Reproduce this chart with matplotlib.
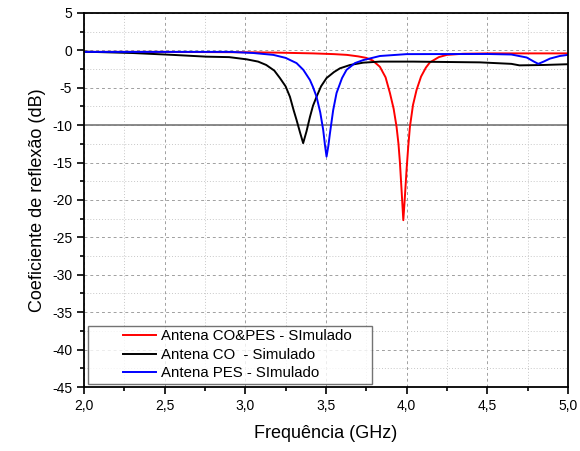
import matplotlib
matplotlib.use("Agg")
import numpy as np
import matplotlib.pyplot as plt
from matplotlib.ticker import MultipleLocator, FuncFormatter
from matplotlib.legend_handler import HandlerLine2D

plt.rcParams['font.family'] = ['Liberation Sans', 'DejaVu Sans']

# Antena CO&PES - simulado
freq_copes = [2.0, 2.5, 3.0, 3.2, 3.42, 3.55, 3.63, 3.70, 3.75, 3.79, 3.835, 3.87,
              3.897, 3.92, 3.938, 3.95, 3.959, 3.97, 3.98, 3.99, 4.0, 4.01, 4.021,
              4.04, 4.062, 4.09, 4.12, 4.145, 4.2, 4.25, 4.35, 4.5, 4.75, 5.0]
s11_copes = [-0.2, -0.2, -0.25, -0.3, -0.4, -0.5, -0.6, -0.8, -1.0, -1.35, -2.2, -3.6,
             -5.7, -7.8, -10.2, -12.5, -15.0, -19.0, -22.7, -19.5, -16.0, -13.0, -10.2,
             -7.3, -5.3, -3.5, -2.3, -1.6, -0.9, -0.6, -0.45, -0.4, -0.4, -0.4]

# Antena CO - simulado
freq_co = [2.0, 2.3, 2.55, 2.76, 2.9, 3.01, 3.08, 3.13, 3.18, 3.215, 3.25, 3.277,
           3.30, 3.318, 3.34, 3.359, 3.38, 3.401, 3.42, 3.442, 3.47, 3.504, 3.55,
           3.587, 3.65, 3.731, 3.835, 4.04, 4.455, 4.65, 4.70, 4.85, 5.0]
s11_co = [-0.17, -0.35, -0.6, -0.84, -0.9, -1.2, -1.5, -1.95, -2.7, -3.7, -4.8, -6.2,
          -8.0, -9.3, -11.0, -12.4, -10.8, -8.9, -7.4, -6.2, -4.8, -3.7, -2.9,
          -2.4, -1.95, -1.64, -1.5, -1.5, -1.6, -1.8, -2.0, -1.95, -1.85]

# Antena PES - simulado
freq_pes = [2.0, 2.5, 2.905, 3.05, 3.174, 3.25, 3.318, 3.36, 3.401, 3.42, 3.442, 3.465,
            3.483, 3.495, 3.504, 3.515, 3.525, 3.545, 3.566, 3.6, 3.628, 3.68, 3.731,
            3.835, 4.0, 4.5, 4.65, 4.745, 4.79, 4.817, 4.85, 4.889, 4.95, 5.0]
s11_pes = [-0.2, -0.2, -0.2, -0.35, -0.6, -1.0, -1.7, -2.6, -3.96, -4.9, -6.2, -8.3,
           -10.6, -12.8, -14.2, -12.8, -11.1, -8.0, -5.7, -3.7, -2.6, -1.7, -1.3,
           -0.75, -0.5, -0.48, -0.55, -0.95, -1.5, -1.8, -1.5, -1.1, -0.75, -0.6]

labels = ['Antena CO&PES - SImulado', 'Antena CO  - Simulado', 'Antena PES - SImulado']


class RightHandle(HandlerLine2D):
    # legend line only on the right part of the handle box, like Origin does
    def get_xdata(self, legend, xdescent, ydescent, width, height, fontsize):
        x = np.array([-xdescent + width * 0.48, -xdescent + width])
        return x, x


fig = plt.figure(figsize=(5.8, 4.51), dpi=100)
ax = fig.add_axes([0.1448, 0.1419, 0.979 - 0.1448, 0.9712 - 0.1419])

# trailing spaces give the wider legend box of the original
ax.plot(freq_copes, s11_copes, color='red', lw=1.4, label=labels[0] + '    ')
ax.plot(freq_co, s11_co, color='black', lw=1.4, label=labels[1])
ax.plot(freq_pes, s11_pes, color='blue', lw=1.4, label=labels[2])
ax.axhline(-10, color='grey', lw=1.3, zorder=1)

ax.set_xlim(2.0, 5.0)
ax.set_ylim(-45, 5)
ax.xaxis.set_major_locator(MultipleLocator(0.5))
ax.xaxis.set_minor_locator(MultipleLocator(0.25))
ax.yaxis.set_major_locator(MultipleLocator(5))
ax.yaxis.set_minor_locator(MultipleLocator(2.5))
ax.xaxis.set_major_formatter(FuncFormatter(lambda v, p: ('%.1f' % v).replace('.', ',')))
ax.yaxis.set_major_formatter(FuncFormatter(lambda v, p: '%d' % v))

ax.grid(True, which='major', color='#a0a0a0', ls=(0, (3, 3)), lw=0.7)
ax.grid(True, which='minor', color='#c8c8c8', ls=(0, (1, 2)), lw=0.7)
ax.set_axisbelow(True)

ax.tick_params(which='both', direction='out', top=False, right=False, labelsize=10)
ax.tick_params(which='major', length=5, width=1.2)
ax.tick_params(which='minor', length=3, width=1.2)
for s in ax.spines.values():
    s.set_linewidth(1.3)

ax.set_xlabel('Frequência (GHz)', fontsize=13, labelpad=9)
ax.set_ylabel('Coeficiente de reflexão (dB)', fontsize=13, labelpad=4)

leg = ax.legend(loc='lower left', bbox_to_anchor=(0.008, 0.008), fontsize=10.8,
                frameon=True, fancybox=False, edgecolor='#505050',
                borderpad=0.25, labelspacing=0.3, handlelength=4.3, handletextpad=0.3,
                borderaxespad=0, handler_map={plt.Line2D: RightHandle()})
leg.get_frame().set_linewidth(1.0)

fig.savefig('out.png', dpi=100)
